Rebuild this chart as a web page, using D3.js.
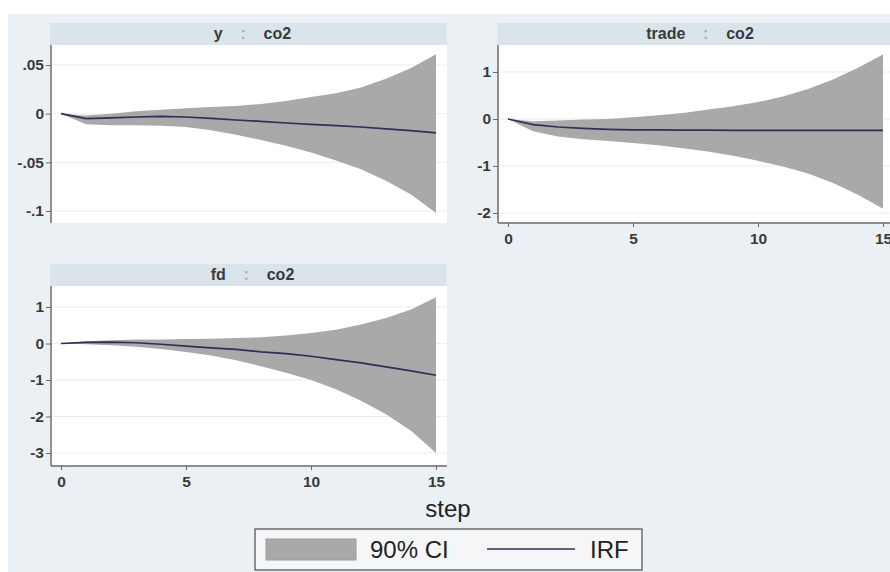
<!DOCTYPE html>
<html><head><meta charset="utf-8">
<script src="https://cdn.jsdelivr.net/npm/d3@7"></script>
<style>
body{margin:0;background:#fff}
svg{display:block;font-family:Arial,"Liberation Sans",sans-serif}
</style>
</head><body>
<svg id="c" width="890" height="572"></svg>
<script>
// ---- data ----
const steps = [0,1,2,3,4,5,6,7,8,9,10,11,12,13,14,15];
const xTicks = [0,5,10,15];

const yIrf = [0,-0.0051,-0.0044,-0.0034,-0.0027,-0.0034,-0.0048,-0.0065,-0.0079,-0.0096,-0.011,-0.0123,-0.0137,-0.0157,-0.0175,-0.0198];
const yHi  = [0,-0.002,0.0,0.0024,0.004,0.0055,0.0068,0.008,0.010,0.013,0.017,0.021,0.027,0.036,0.047,0.061];
const yLo  = [0,-0.011,-0.012,-0.012,-0.0123,-0.0137,-0.017,-0.0216,-0.027,-0.033,-0.040,-0.048,-0.057,-0.069,-0.083,-0.102];
const yTickVals = [0.05,0,-0.05,-0.1];
const yTickLabels = [".05","0","-.05","-.1"];

const tradeIrf = [0,-0.12,-0.17,-0.2,-0.22,-0.23,-0.23,-0.235,-0.235,-0.24,-0.24,-0.24,-0.24,-0.24,-0.24,-0.24];
const tradeHi  = [0,-0.05,-0.03,-0.01,0,0.035,0.08,0.13,0.2,0.27,0.36,0.48,0.64,0.84,1.09,1.37];
const tradeLo  = [0,-0.26,-0.37,-0.43,-0.47,-0.51,-0.56,-0.62,-0.69,-0.78,-0.89,-1.01,-1.16,-1.36,-1.61,-1.91];
const tradeTickVals = [1,0,-1,-2];
const tradeTickLabels = ["1","0","-1","-2"];

const fdIrf = [0,0.03,0.04,0.02,-0.02,-0.07,-0.12,-0.16,-0.23,-0.28,-0.35,-0.44,-0.53,-0.64,-0.75,-0.87];
const fdHi  = [0,0.06,0.09,0.11,0.11,0.12,0.13,0.15,0.17,0.22,0.29,0.38,0.52,0.7,0.93,1.27];
const fdLo  = [0,-0.02,-0.05,-0.09,-0.15,-0.23,-0.33,-0.46,-0.62,-0.8,-1.0,-1.25,-1.57,-1.94,-2.39,-3.0];
const fdTickVals = [1,0,-1,-2,-3];
const fdTickLabels = ["1","0","-1","-2","-3"];

const titles = [["y","co2"],["trade","co2"],["fd","co2"]];
const legendLabels = ["90% CI","IRF"];
const xTitle = "step";

// ---- layout ----
const C = {bg:"#eaf0f4", strip:"#d9e4eb", band:"#a9a9a9", line:"#2f2f58", axis:"#6a6a6a", text:"#3a3a3a", grid:"#e9eeee"};
const panels = [
  {t:titles[0], irf:yIrf, hi:yHi, lo:yLo, tv:yTickVals, tl:yTickLabels,
   box:{l:50,r:447,st:23,t:45,b:223}, yd:[-0.1,0.05], yr:[211,65], xr:[61,436], xaxis:false},
  {t:titles[1], irf:tradeIrf, hi:tradeHi, lo:tradeLo, tv:tradeTickVals, tl:tradeTickLabels,
   box:{l:497,r:895,st:23,t:45,b:223}, yd:[-2,1], yr:[213,72], xr:[508,883], xaxis:true},
  {t:titles[2], irf:fdIrf, hi:fdHi, lo:fdLo, tv:fdTickVals, tl:fdTickLabels,
   box:{l:50,r:447,st:264,t:286,b:466}, yd:[-3,1], yr:[453,307], xr:[61,436], xaxis:true}
];

const svg = d3.select("#c");
svg.append("rect").attr("x",8).attr("y",14).attr("width",882).attr("height",558).attr("fill",C.bg);

panels.forEach(p=>{
  const b = p.box;
  const g = svg.append("g");
  const x = d3.scaleLinear().domain([0,15]).range(p.xr);
  const y = d3.scaleLinear().domain(p.yd).range(p.yr);
  // strip
  g.append("rect").attr("x",b.l).attr("y",b.st).attr("width",b.r-b.l).attr("height",b.t-b.st).attr("fill",C.strip);
  const tt = g.append("text").attr("x",(b.l+b.r)/2+4).attr("y",b.st+16)
    .attr("text-anchor","middle").attr("font-size",16).attr("font-weight","bold")
    .attr("fill",C.text).style("white-space","pre");
  tt.append("tspan").text(p.t[0]);
  tt.append("tspan").attr("fill","#a8b0b8").text("    :    ");
  tt.append("tspan").text(p.t[1]);
  // plot region
  g.append("rect").attr("x",b.l).attr("y",b.t).attr("width",b.r-b.l).attr("height",b.b-b.t).attr("fill","#fff");
  g.selectAll(".grid").data(p.tv).join("line")
    .attr("x1",b.l+2).attr("x2",b.r).attr("y1",d=>y(d)).attr("y2",d=>y(d))
    .attr("stroke",C.grid).attr("stroke-width",1);
  // band
  const rows = steps.map((s,i)=>({s, lo:p.lo[i], hi:p.hi[i], v:p.irf[i]}));
  g.append("path").datum(rows)
    .attr("d", d3.area().x(d=>x(d.s)).y0(d=>y(d.lo)).y1(d=>y(d.hi)))
    .attr("fill",C.band);
  g.append("path").datum(rows)
    .attr("d", d3.line().x(d=>x(d.s)).y(d=>y(d.v)))
    .attr("fill","none").attr("stroke",C.line).attr("stroke-width",1.7);
  // y axis
  const ya = g.append("g").attr("transform",`translate(${b.l+1},0)`)
    .call(d3.axisLeft(y).tickValues(p.tv).tickFormat((d,i)=>p.tl[i]).tickSize(5).tickPadding(2));
  ya.select(".domain").remove();
  ya.selectAll(".tick line").attr("stroke",C.axis).attr("stroke-width",1);
  ya.selectAll(".tick text").attr("font-size",15.5).attr("font-weight","bold").attr("fill",C.text)
    .attr("font-family","Arial, 'Liberation Sans', sans-serif");
  g.append("line").attr("x1",b.l+1).attr("x2",b.l+1).attr("y1",b.t).attr("y2",b.b)
    .attr("stroke",C.axis).attr("stroke-width",1.5);
  // x axis
  if(p.xaxis){
    const xa = g.append("g").attr("transform",`translate(0,${b.b})`)
      .call(d3.axisBottom(x).tickValues(xTicks).tickSize(4).tickPadding(6));
    xa.select(".domain").remove();
    xa.selectAll(".tick line").attr("stroke",C.axis).attr("stroke-width",1);
    xa.selectAll(".tick text").attr("font-size",15.5).attr("font-weight","bold").attr("fill",C.text)
      .attr("font-family","Arial, 'Liberation Sans', sans-serif");
    g.append("line").attr("x1",b.l+1).attr("x2",b.r).attr("y1",b.b).attr("y2",b.b)
      .attr("stroke",C.axis).attr("stroke-width",1.5);
  }
});

// x title
svg.append("text").attr("x",448).attr("y",517).attr("text-anchor","middle")
  .attr("font-size",24).attr("fill","#222").text(xTitle);

// legend
const lg = svg.append("g");
lg.append("rect").attr("x",255).attr("y",529).attr("width",387).attr("height",41)
  .attr("fill","#f4f6f7").attr("stroke","#4a4a4a").attr("stroke-width",1.2);
lg.append("rect").attr("x",266).attr("y",539).attr("width",90).attr("height",21)
  .attr("fill",C.band).attr("stroke","#9c9c9c").attr("stroke-width",1);
lg.append("text").attr("x",370).attr("y",558).attr("font-size",24).attr("fill","#222").text(legendLabels[0]);
lg.append("line").attr("x1",487).attr("x2",575).attr("y1",549).attr("y2",549)
  .attr("stroke",C.line).attr("stroke-width",1.7);
lg.append("text").attr("x",590).attr("y",558).attr("font-size",24).attr("fill","#222").text(legendLabels[1]);
</script>
</body></html>
